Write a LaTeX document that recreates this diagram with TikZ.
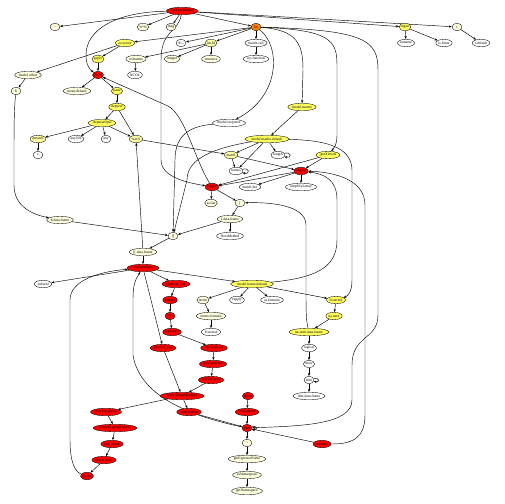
\documentclass[tikz,border=0pt]{standalone}
\usepackage{fontspec}
\setmainfont{Liberation Serif}
\usepackage{tikz}
\usetikzlibrary{arrows.meta,shapes.geometric,backgrounds}
\definecolor{cRed}{HTML}{FF0000}
\definecolor{cOrange}{HTML}{FF8000}
\definecolor{cYellow}{HTML}{FFFF60}
\definecolor{cPale}{HTML}{FFFFA8}
\definecolor{cCream}{HTML}{FFFFE0}

\begin{document}
\begin{tikzpicture}[x=1bp,y=-1bp,
	fn/.style={ellipse, draw, line width=0.35pt, inner xsep=0.2bp, inner ysep=0bp,
		minimum height=7.5bp, minimum width=10bp, font=\fontsize{3.7}{4}\selectfont},
	fnred/.style={fn, fill=cRed},
	fnorange/.style={fn, fill=cOrange},
	fnyellow/.style={fn, fill=cYellow},
	fnpale/.style={fn, fill=cPale},
	fncream/.style={fn, fill=cCream},
	fnwhite/.style={fn, fill=white},
	call/.style={-{Stealth[length=3bp,width=2.3bp]}, line width=0.45pt},
	self/.style={loop right, min distance=4bp, looseness=6}]
	\useasboundingbox (0,0) rectangle (504,504);
	% top row
	\node[fnred] (fgl) at (182,11) {fgfilter.lambda};
	\node[fncream] (dots) at (55,27) {...};
	\node[fncream] (mm) at (143,27) {\%*\%};
	\node[fncream] (diag) at (171,27) {diag};
	\node[fnorange] (lm) at (256,27) {lm};
	\node[fnyellow] (eigen) at (405,27) {eigen};
	\node[fncream] (t) at (457,27) {t};
	\node[fnwhite] (unname) at (406,43) {unname};
	\node[fnwhite] (isfinite) at (444,43) {is.finite};
	\node[fnwhite] (tdefault) at (481,43) {t.default};
	\node[fnyellow] (asvector) at (125,43) {as.vector};
	\node[fnwhite] (assign) at (181,43) {\$<-};
	\node[fnpale] (lmfit) at (211,43) {lm.fit};
	\node[fnwhite] (matchcall) at (256,43) {match.call};
	\node[fncream] (integer) at (172,59) {integer};
	\node[fncream] (structure) at (211,59) {structure};
	\node[fnwhite] (sysfunction) at (256,59) {sys.function};
	\node[fncream] (colnames) at (136,59) {colnames};
	\node[fnwhite] (NCOL) at (135,75) {NCOL};
	\node[fnyellow] (apply) at (98,59) {apply};
	\node[fnred] (FUN) at (98,75) {FUN};
	\node[fncream] (modeloffset) at (28,75) {model.offset};
	\node[fncream] (dollar) at (16,91) {\$};
	\node[fncream] (meandefault) at (77,91) {mean.default};
	\node[fnyellow] (paste) at (117,91) {paste};
	\node[fnyellow] (deparse) at (117,107) {deparse};
	\node[fnyellow] (deparseOpts) at (102,123) {.deparseOpts};
	\node[fnpale] (pmatch) at (38,139) {pmatch};
	\node[fnwhite] (anyNA) at (76,139) {anyNA};
	\node[fnwhite] (any) at (106,139) {any};
	\node[fnpale] (in) at (136,139) {\%in\%};
	\node[fnwhite] (c) at (38,155) {c};
	% model part
	\node[fnwhite] (modelresponse) at (229,123) {model.response};
	\node[fnyellow] (modelmatrix) at (302,107) {model.matrix};
	\node[fnyellow] (mmd) at (267,139) {model.matrix.default};
	\node[fnpale] (match) at (231,155) {match};
	\node[fnwhite] (length) at (278,155) {length};
	\node[fnyellow] (getX) at (328,155) {.getXlevels};
	\node[fnwhite] (names) at (236,171) {names};
	\node[fnred] (sapply) at (301,171) {sapply};
	\node[fnred] (lapply) at (212,187) {lapply};
	\node[fnwhite] (matchfun) at (250,187) {match.fun};
	\node[fnwhite] (simplify) at (301,187) {simplify2array};
	\node[fncream] (aslist) at (211,203) {as.list};
	\node[fncream] (br) at (240,203) {[};
	\node[fncream] (brdf) at (230,219) {[.data.frame};
	\node[fnwhite] (nextmethod) at (230,236) {NextMethod};
	\node[fncream] (dollardf) at (60,220) {\$.data.frame};
	\node[fncream] (bb) at (173,236) {[[};
	\node[fncream] (bbdf) at (143,252) {[[.data.frame};
	\node[fnred] (anon) at (143,268) {<Anonymous>};
	\node[fnwhite] (subset) at (43,284) {.subset2};
	\node[fnred] (evalcall) at (176,284) {evaluate\_call};
	\node[fnyellow] (mfd) at (252,284) {model.frame.default};
	\node[fncream] (terms) at (203,300) {terms};
	\node[fnwhite] (vapply) at (237,300) {vapply};
	\node[fnwhite] (asformula) at (272,300) {as.formula};
	\node[fncream] (termsformula) at (211,316) {terms.formula};
	\node[fnwhite] (external) at (211,332) {.External};
	\node[fnyellow] (sterm) at (336,300) {ll.sterm2};
	\node[fnyellow] (naomit) at (334,316) {na.omit};
	\node[fnyellow] (naomitdf) at (309,332) {na.omit.data.frame};
	\node[fnwhite] (logical) at (309,348) {logical};
	\node[fnwhite] (nrow) at (309,364) {nrow};
	\node[fnwhite] (dim) at (309,380) {dim};
	\node[fnwhite] (dimdf) at (309,396) {dim.data.frame};
	% knitr part
	\node[fnred] (handle) at (170,300) {handle};
	\node[fnred] (try) at (170,316) {try};
	\node[fnred] (trycatch) at (172,332) {tryCatch};
	\node[fnred] (processfile) at (163,348) {process\_file};
	\node[fnred] (trycatchlist) at (214,348) {tryCatchList};
	\node[fnred] (trycatchone) at (213,364) {tryCatchOne};
	\node[fnred] (dotrycatch) at (211,380) {doTryCatch};
	\node[fnred] (wch) at (182,396) {withCallingHandlers};
	\node[fnred] (withvisible) at (189,412) {withVisible};
	\node[fnred] (pg) at (106,412) {process\_group};
	\node[fnred] (pgb) at (115,428) {process\_group.block};
	\node[fnred] (callblock) at (112,444) {call\_block};
	\node[fnred] (blockexec) at (104,460) {block\_exec};
	\node[fnred] (indir) at (87,476) {in\_dir};
	\node[fnred] (force) at (248,396) {force};
	\node[fnred] (evalparent) at (247,412) {eval.parent};
	\node[fnred] (eval) at (247,428) {eval};
	\node[fnred] (evaluate) at (322,444) {evaluate};
	\node[fncream] (colons) at (247,443) {::};
	\node[fncream] (getexported) at (247,459) {getExportedValue};
	\node[fncream] (asns) at (247,475) {asNamespace};
	\node[fncream] (getns) at (247,491) {getNamespace};

	\begin{scope}[on background layer]
	\path[call]
	(fgl) edge (dots) edge (mm) edge (diag) edge (lm) edge (eigen) edge (t)
	(eigen) edge (unname) edge (isfinite)
	(t) edge (tdefault)
	(lm) edge (assign) edge (lmfit) edge (matchcall) edge (asvector)
	(lmfit) edge (integer) edge (structure) edge (colnames)
	(matchcall) edge (sysfunction)
	(colnames) edge (NCOL)
	(asvector) edge (apply) edge (modeloffset)
	(apply) edge (FUN)
	(modeloffset) edge (dollar)
	(FUN) edge (meandefault) edge (paste)
	(paste) edge (deparse)
	(deparse) edge (deparseOpts) edge (in)
	(deparseOpts) edge (pmatch) edge (anyNA) edge (any) edge (in)
	(pmatch) edge (c)
	(in) edge (match)
	(modelmatrix) edge (mmd)
	(mmd) edge (match) edge (names) edge (length)
	(match) edge (names) edge (sapply)
	(names) edge[self] (names)
	(length) edge[self] (length)
	(getX) edge (sapply) edge (lapply)
	(sapply) edge (lapply) edge (matchfun) edge (simplify)
	(lapply) edge (aslist) edge (br)
	(br) edge (brdf)
	(brdf) edge (nextmethod) edge (bb)
	(dollardf) edge (bb)
	(bb) edge (bbdf)
	(bbdf) edge (anon) edge (in)
	(anon) edge (subset) edge (evalcall) edge (processfile) edge (mfd)
	(mfd) edge (terms) edge (vapply) edge (asformula) edge (sterm)
	(terms) edge (termsformula)
	(termsformula) edge (external)
	(sterm) edge (naomit)
	(naomit) edge (naomitdf)
	(naomitdf) edge (logical)
	(logical) edge (nrow)
	(nrow) edge (dim)
	(dim) edge[self] (dim) edge (dimdf)
	(evalcall) edge (handle)
	(handle) edge (try)
	(try) edge (trycatch)
	(trycatch) edge (trycatchlist)
	(trycatchlist) edge (trycatchone)
	(trycatchone) edge (dotrycatch)
	(dotrycatch) edge (wch)
	(processfile) edge (wch)
	(wch) edge (pg) edge (withvisible)
	(pg) edge (pgb)
	(pgb) edge (callblock)
	(callblock) edge (blockexec)
	(blockexec) edge (indir)
	(withvisible) edge (eval)
	(force) edge (evalparent)
	(evalparent) edge (eval)
	(evaluate) edge (eval)
	(eval) edge[self] (eval) edge (colons)
	(colons) edge (getexported)
	(getexported) edge (asns)
	(asns) edge (getns);
	% long curved calls
	\draw[call] (fgl) .. controls (178,33) and (161,30) .. (161,60) -- (161,160)
		.. controls (161,178) and (190,183) .. (lapply);
	\draw[call] (fgl) .. controls (115,12) and (86,30) .. (86,55)
		.. controls (86,65) and (90,70) .. (FUN);
	\draw[call] (lapply) .. controls (195,160) and (185,115) .. (168,106) -- (FUN);
	\draw[call] (lm) .. controls (280,45) and (282,95) .. (modelresponse);
	\draw[call] (lm) .. controls (298,30) and (303,45) .. (303,70) -- (modelmatrix);
	\draw[call] (lm) .. controls (330,30) and (337,40) .. (337,65) -- (337,135)
		.. controls (337,145) and (334,148) .. (getX);
	\draw[call] (lm) .. controls (365,30) and (378,40) .. (378,70) -- (378,315)
		.. controls (378,340) and (352,335) .. (352,365) -- (352,400)
		.. controls (352,425) and (300,426) .. (eval);
	\draw[call] (evaluate) .. controls (350,444) and (365,440) .. (365,415) -- (365,205)
		.. controls (365,180) and (335,172) .. (sapply);
	\draw[call] (mfd) .. controls (315,278) and (337,268) .. (337,240) -- (337,200)
		.. controls (337,180) and (325,174) .. (sapply);
	\draw[call] (mmd) .. controls (320,140) and (352,145) .. (352,170) -- (352,280)
		.. controls (352,292) and (348,296) .. (sterm);
	\draw[call] (naomitdf) .. controls (306,320) and (306,310) .. (306,290) -- (306,225)
		.. controls (306,205) and (270,202) .. (br);
	\draw[call] (modelresponse) .. controls (190,126) and (175,135) .. (175,160) -- (bb);
	\draw[call] (mmd) .. controls (215,148) and (187,158) .. (187,180) -- (bb);
	\draw[call] (dollar) .. controls (14,110) and (14,130) .. (14,160) -- (14,185)
		.. controls (14,205) and (30,214) .. (dollardf);
	\draw[call] (eval) .. controls (200,418) and (140,400) .. (133,355) -- (133,300)
		.. controls (133,285) and (135,280) .. (anon);
	\draw[call] (indir) .. controls (75,472) and (70,462) .. (70,440) -- (70,300)
		.. controls (70,282) and (95,272) .. (anon);
	\end{scope}
\end{tikzpicture}
\end{document}
